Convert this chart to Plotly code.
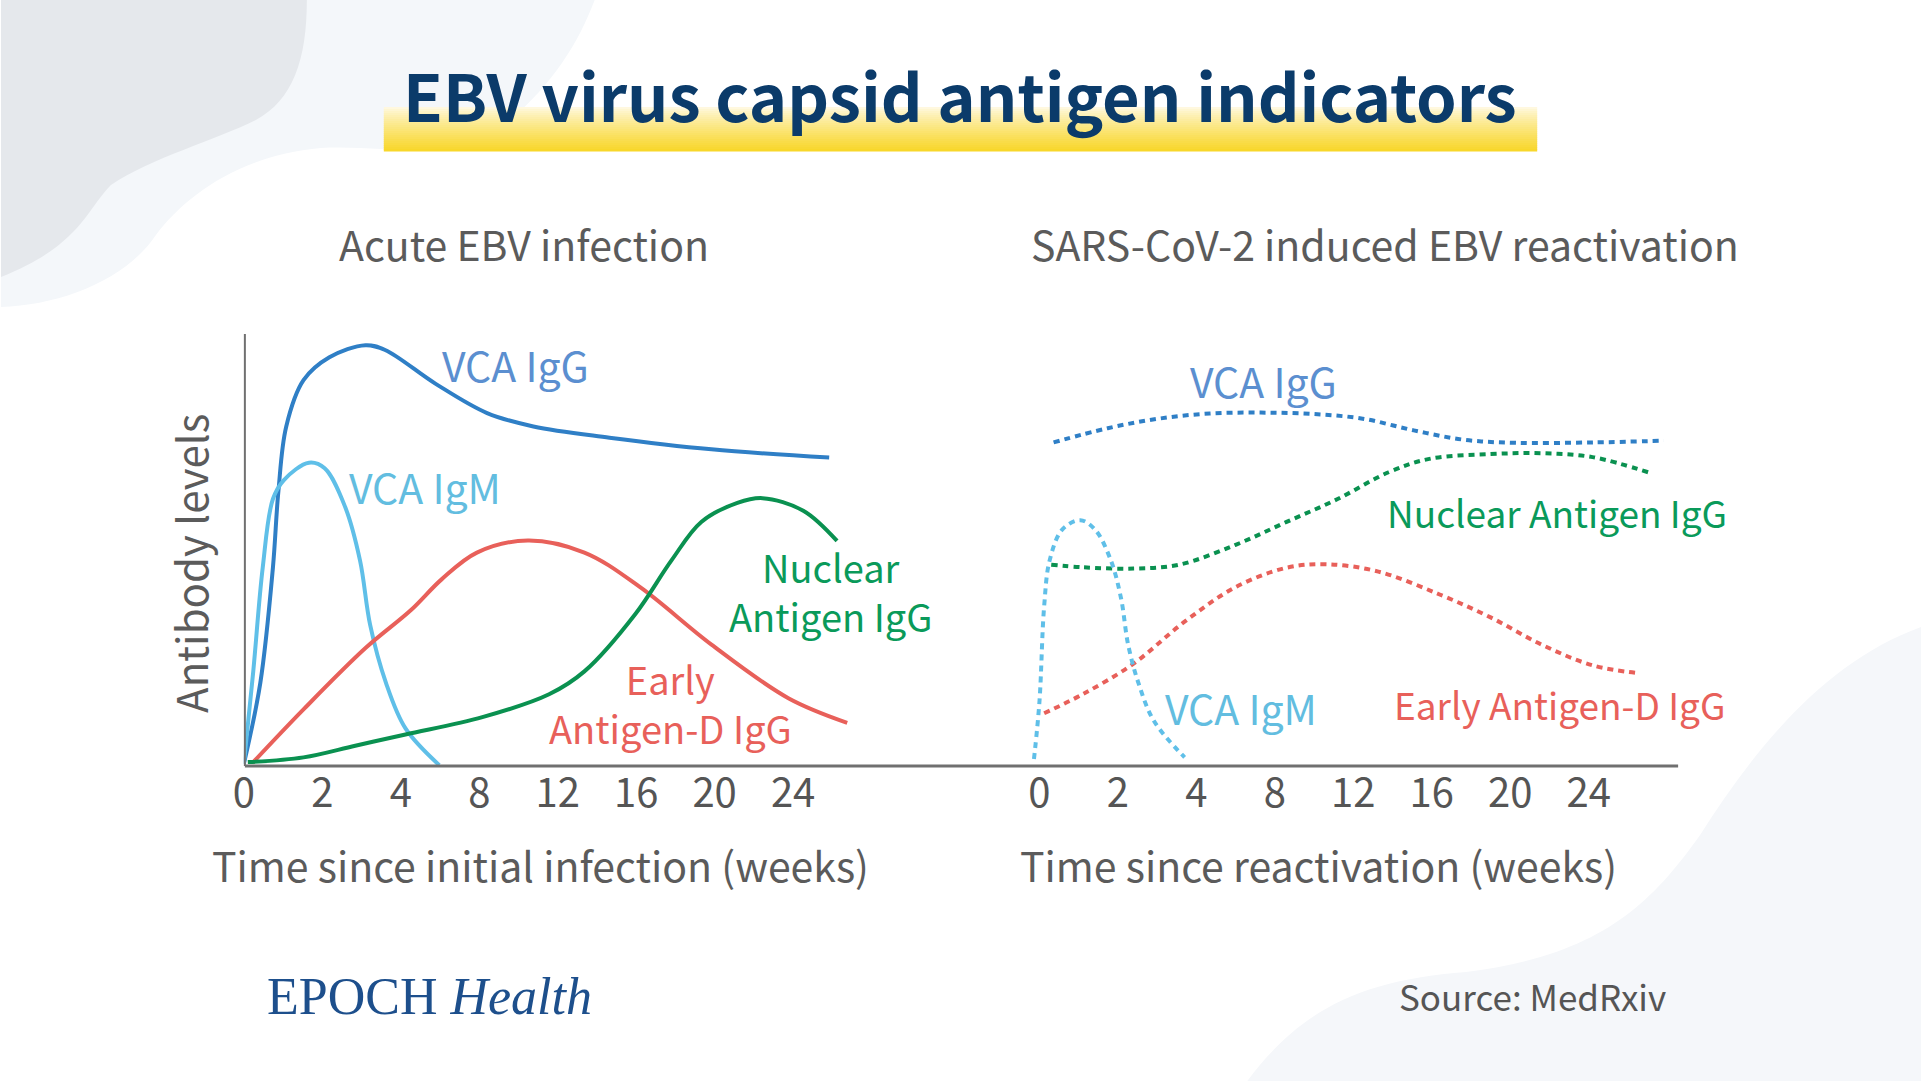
import plotly.graph_objects as go

W, H = 1921, 1081
# the photographed page comes out squeezed ~10 px to the right; pre-compensate
X_SHIFT, X_SCALE = 10, 0.9948

# tick labels (weeks) - plotted at equal spacing like the original
tick_labels = ["0", "2", "4", "8", "12", "16", "20", "24"]

# Acute EBV infection (x = tick index, y = relative antibody level)
acute_vca_igg_x = [0.0, 0.21, 0.37, 0.44, 0.54, 0.76, 1.09, 1.55, 1.80, 2.45, 3.10, 3.69, 4.66, 5.96, 7.46]
acute_vca_igg_y = [0.5, 19.3, 45.9, 63.6, 78.6, 89.3, 94.6, 97.4, 96.3, 88.4, 81.7, 78.6, 76.0, 73.3, 71.4]
acute_vca_igm_x = [0.0, 0.12, 0.24, 0.37, 0.51, 0.83, 1.03, 1.29, 1.48, 1.61, 1.81, 2.06, 2.49]
acute_vca_igm_y = [0.5, 22.0, 45.9, 61.8, 66.2, 70.2, 68.9, 60.0, 47.6, 32.6, 19.3, 8.7, 0.2]
acute_ea_x = [0.11, 0.76, 1.55, 2.13, 2.52, 2.97, 3.62, 4.34, 5.05, 5.96, 6.94, 7.69]
acute_ea_y = [0.7, 13.1, 27.3, 36.1, 43.2, 49.4, 52.2, 49.4, 41.4, 28.1, 15.7, 10.0]
acute_na_x = [0.05, 0.76, 1.42, 2.06, 3.04, 3.89, 4.34, 4.99, 5.45, 5.83, 6.29, 6.61, 7.13, 7.56]
acute_na_y = [0.9, 2.0, 4.7, 7.3, 11.3, 16.6, 21.9, 35.2, 47.6, 56.5, 60.9, 62.0, 59.1, 52.1]

# SARS-CoV-2 induced reactivation
react_vca_igg_x = [0.18, 0.87, 1.52, 2.17, 2.82, 3.47, 4.12, 4.77, 5.42, 6.07, 7.05, 7.96]
react_vca_igg_y = [74.9, 78.2, 80.4, 81.6, 81.8, 81.5, 80.4, 77.7, 75.5, 74.8, 74.9, 75.3]
react_na_x = [0.15, 0.55, 1.20, 1.78, 2.50, 3.15, 3.80, 4.45, 4.97, 5.75, 6.40, 7.05, 7.79]
react_na_y = [46.6, 46.0, 45.7, 46.6, 51.2, 56.5, 61.8, 68.0, 71.1, 72.2, 72.4, 71.5, 67.8]
react_ea_x = [0.06, 0.55, 1.20, 1.85, 2.50, 3.15, 3.67, 4.32, 5.10, 5.75, 6.40, 7.05, 7.63]
react_ea_y = [12.2, 16.6, 23.7, 33.4, 41.4, 45.9, 46.7, 45.0, 39.7, 34.4, 28.1, 23.3, 21.5]
react_vca_igm_x = [-0.07, 0.0, 0.06, 0.13, 0.29, 0.52, 0.71, 0.91, 1.04, 1.13, 1.26, 1.46, 1.85]
react_vca_igm_y = [1.6, 14.9, 37.0, 47.6, 54.7, 56.9, 54.7, 47.6, 38.8, 28.1, 19.3, 10.4, 2.0]

BLUE = "#2f7fc6"
LIGHT_BLUE = "#5fbfe8"
RED = "#e8605a"
GREEN = "#0a9150"
GREY = "#5b5b5b"
FONT = "Noto Sans CJK SC"


def px(x):
    return (x - X_SHIFT) / X_SCALE / W


def py(y):
    return 1 - y / H


fig = go.Figure()

# solid lines, left panel
for xs, ys, c in [(acute_vca_igg_x, acute_vca_igg_y, BLUE),
                  (acute_vca_igm_x, acute_vca_igm_y, LIGHT_BLUE),
                  (acute_ea_x, acute_ea_y, RED),
                  (acute_na_x, acute_na_y, GREEN)]:
    fig.add_trace(go.Scatter(x=xs, y=ys, mode="lines", xaxis="x", yaxis="y",
                             line=dict(color=c, width=4, shape="spline", smoothing=1.0),
                             hoverinfo="skip", showlegend=False))

# dotted lines, right panel
for xs, ys, c in [(react_vca_igg_x, react_vca_igg_y, BLUE),
                  (react_na_x, react_na_y, GREEN),
                  (react_ea_x, react_ea_y, RED),
                  (react_vca_igm_x, react_vca_igm_y, LIGHT_BLUE)]:
    fig.add_trace(go.Scatter(x=xs, y=ys, mode="lines", xaxis="x2", yaxis="y2",
                             line=dict(color=c, width=4, shape="spline", smoothing=1.0, dash="6px,5px"),
                             hoverinfo="skip", showlegend=False))

axis_common = dict(tickvals=list(range(len(tick_labels))), ticktext=tick_labels,
                   showgrid=False, zeroline=False, showline=False, ticks="",
                   tickfont=dict(family=FONT, size=40, color="#555555"), fixedrange=True)

y_domain = [py(766), py(334)]
L0, R1 = px(0), px(W)

# background blobs and decorations
shapes = [
    dict(type="path", xref="paper", yref="paper", layer="below", line=dict(width=0),
         fillcolor="#f4f7fa",
         path=f"M {L0} 1 L {px(594)} 1 C {px(575)} {py(50)}, {px(545)} {py(95)}, {px(485)} {py(140)} "
              f"C {px(440)} {py(160)}, {px(380)} {py(145)}, {px(320)} {py(148)} "
              f"C {px(240)} {py(155)}, {px(185)} {py(195)}, {px(155)} {py(235)} "
              f"C {px(125)} {py(280)}, {px(60)} {py(305)}, {L0} {py(307)} Z"),
    dict(type="path", xref="paper", yref="paper", layer="below", line=dict(width=0),
         fillcolor="#e5e8ec",
         path=f"M {L0} 1 L {px(306)} 1 C {px(306)} {py(60)}, {px(292)} {py(100)}, {px(255)} {py(120)} "
              f"C {px(215)} {py(140)}, {px(150)} {py(158)}, {px(110)} {py(185)} "
              f"C {px(85)} {py(210)}, {px(80)} {py(245)}, {L0} {py(277)} Z"),
    dict(type="path", xref="paper", yref="paper", layer="below", line=dict(width=0),
         fillcolor="#f5f7fa",
         path=f"M {R1} {py(627)} C {px(1830)} {py(660)}, {px(1760)} {py(740)}, {px(1700)} {py(835)} "
              f"C {px(1650)} {py(905)}, {px(1600)} {py(955)}, {px(1466)} {py(972)} "
              f"C {px(1360)} {py(980)}, {px(1300)} {py(1010)}, {px(1247)} {py(1081)} L {R1} 0 Z"),
    # axis lines
    dict(type="line", xref="paper", yref="paper", x0=px(244), x1=px(1678), y0=py(766), y1=py(766),
         line=dict(color="#707070", width=3)),
    dict(type="line", xref="paper", yref="paper", x0=px(244), x1=px(244), y0=py(766), y1=py(334),
         line=dict(color="#707070", width=2)),
]

# yellow highlighter bar behind the title (vertical fade)
bar_top, bar_bot, n_strips = 107, 151, 22
for i in range(n_strips):
    t = (i + 0.5) / n_strips
    t = t ** 0.8
    r = round(255 + (248 - 255) * t)
    g = round(250 + (214 - 250) * t)
    b = round(232 + (40 - 232) * t)
    y0 = bar_top + (bar_bot - bar_top) * i / n_strips
    y1 = bar_top + (bar_bot - bar_top) * (i + 1) / n_strips + 0.5
    shapes.append(dict(type="rect", xref="paper", yref="paper", layer="below",
                       x0=px(383), x1=px(1537), y0=py(y1), y1=py(y0),
                       line=dict(width=0), fillcolor=f"rgb({r},{g},{b})"))


def label(text, x, y, color, size=44, anchor="center", family=FONT, **kw):
    return dict(text=text, x=px(x), y=py(y), xref="paper", yref="paper", showarrow=False,
                xanchor=anchor, yanchor="middle", align=anchor if anchor != "center" else "center",
                font=dict(family=family, size=size, color=color), **kw)


annotations = [
    label("<b>EBV virus capsid antigen indicators</b>", 960, 94, "#0b3b6a", size=65),
    label("Acute EBV infection", 523, 243, GREY, size=41),
    label("SARS-CoV-2 induced EBV reactivation", 1385, 243, GREY, size=41),
    label("Antibody levels", 188, 563, GREY, size=42, textangle=-90),
    label("Time since initial infection (weeks)", 540, 864, GREY, size=41),
    label("Time since reactivation (weeks)", 1318, 864, GREY, size=41),
    label("Source: MedRxiv", 1668, 995, "#555555", size=35, anchor="right"),
    label("EPOCH <i>Health</i>", 264, 996, "#1d4f8c", size=52, anchor="left", family="Liberation Serif"),
    # curve labels - left
    label("VCA IgG", 515, 364, "#5b8fd0", size=41),
    label("VCA IgM", 424, 486, "#62bde0", size=41),
    label("Nuclear<br>Antigen IgG", 830, 591, "#0a9a5a", size=38),
    label("Early<br>Antigen-D IgG", 670, 703, RED, size=38),
    # curve labels - right
    label("VCA IgG", 1263, 380, "#5b8fd0", size=41),
    label("Nuclear Antigen IgG", 1557, 512, "#0a9a5a", size=37),
    label("VCA IgM", 1241, 707, "#62bde0", size=41),
    label("Early Antigen-D IgG", 1559, 704, RED, size=37),
]

fig.update_layout(
    width=W, height=H,
    margin=dict(l=0, r=0, t=0, b=0),
    paper_bgcolor="white", plot_bgcolor="rgba(0,0,0,0)",
    xaxis=dict(domain=[px(243), px(871)], range=[0, 8], anchor="y", **axis_common),
    yaxis=dict(domain=y_domain, range=[0, 100], visible=False, fixedrange=True),
    xaxis2=dict(domain=[px(1039 - 0.5 * 78.5), px(1039 + 8.5 * 78.5)], range=[-0.5, 8.5], anchor="y2", **axis_common),
    yaxis2=dict(domain=y_domain, range=[0, 100], visible=False, fixedrange=True, anchor="x2"),
    shapes=shapes,
    annotations=annotations,
    font=dict(family=FONT),
)

fig.write_html("out.html", config={"displayModeBar": False},
               post_script="document.body.style.margin='0';document.body.style.overflow='hidden';")
